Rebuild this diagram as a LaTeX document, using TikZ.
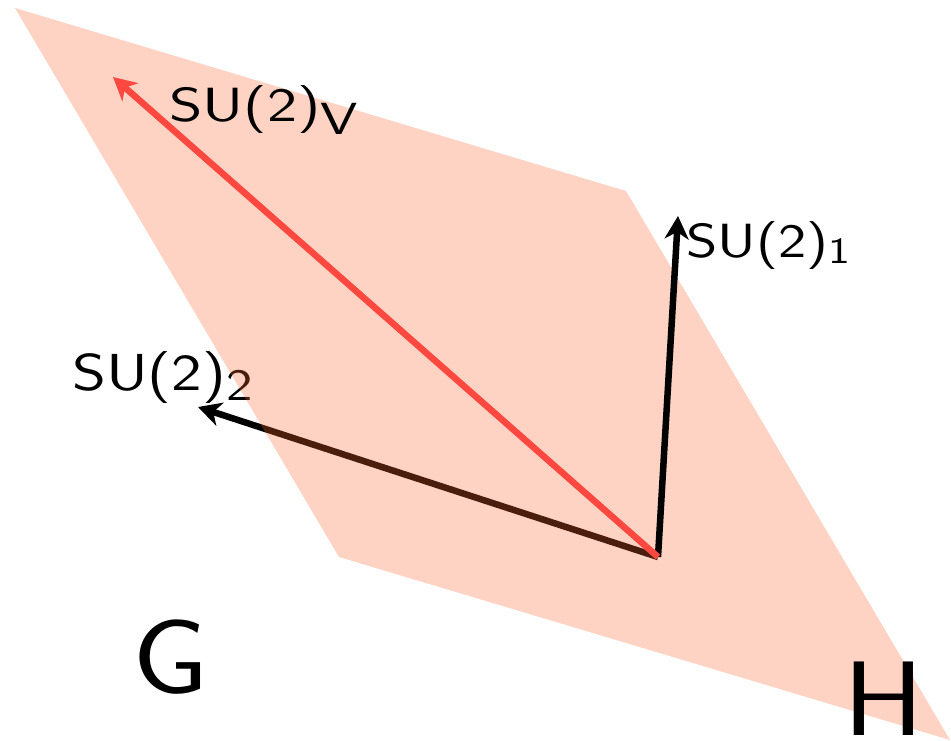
\documentclass[tikz,border=0pt]{standalone}
\usepackage{fontspec}
\usetikzlibrary{arrows.meta}
\definecolor{planecol}{RGB}{255,103,48}
\definecolor{vred}{RGB}{255,72,64}
\tikzset{
  vec/.style={line width=6.5pt,-{Stealth[length=23pt,width=24pt,inset=7pt]}},
  lab/.style={anchor=base west,inner sep=0pt,font=\sffamily\fontsize{48}{50}\selectfont},
  big/.style={anchor=base west,inner sep=0pt,font=\sffamily\fontsize{106}{110}\selectfont},
}
\begin{document}
\begin{tikzpicture}[x=1pt,y=-1pt]
\useasboundingbox (0,0) rectangle (951,741);
\coordinate (O) at (658,557);
\coordinate (t1) at (678,216);
\coordinate (t2) at (198,407);
\coordinate (tv) at (113,77);
\coordinate (p1) at (15,8);
\coordinate (p2) at (626,191);
\coordinate (p3) at (950,740);
\coordinate (p4) at (339,557);
% arrow lying under the plane
\draw[vec,black] (O) -- (t2);
\node[lab,font=\sffamily\fontsize{52}{54}\selectfont] (l2) at (72,390)
  {\scalebox{1.25}[1]{SU(2)\raisebox{-10pt}{\fontsize{45}{47}\selectfont 2}}};
% plane
\fill[planecol,fill opacity=0.29] (p1) -- (p2) -- (p3) -- (p4) -- cycle;
% arrows above the plane
\draw[vec,black] (O) -- (t1);
\draw[vec,vred] (O) -- (tv);
\node[lab] (l1) at (686,257)
  {\scalebox{1.25}[1]{SU(2)\raisebox{-6pt}{\fontsize{37}{39}\selectfont 1}}};
\node[lab] (lv) at (169,122)
  {\scalebox{1.33}[1]{SU(2)\raisebox{-13pt}{\fontsize{45}{47}\selectfont V}}};
\node[big] (G) at (132,693) {\scalebox{1.15}[1]{G}};
\node[big] (H) at (843,735) {\scalebox{1.15}[1]{H}};
\end{tikzpicture}
\end{document}
